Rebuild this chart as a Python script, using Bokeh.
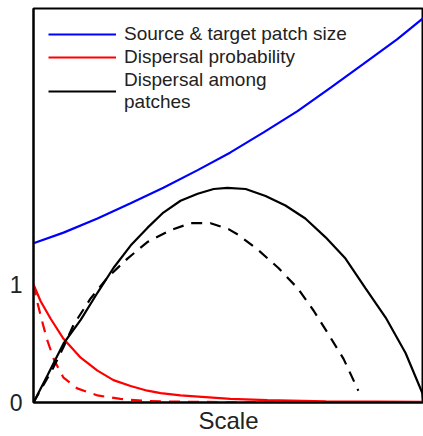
from bokeh.plotting import figure
from bokeh.models import FixedTicker, Legend, LegendItem, Range1d
from bokeh.embed import file_html
from bokeh.resources import INLINE

# Data (x = relative scale 0..1)
blue_x = [0.0, 0.077, 0.164, 0.249, 0.333, 0.421, 0.505, 0.59, 0.677, 0.762, 0.846, 0.933, 1.0]
blue_y = [1.35, 1.44, 1.56, 1.69, 1.82, 1.97, 2.12, 2.29, 2.47, 2.67, 2.87, 3.08, 3.26]

black_x = [0.0, 0.036, 0.077, 0.121, 0.164, 0.205, 0.249, 0.292, 0.333, 0.377, 0.421, 0.462, 0.497,
           0.544, 0.595, 0.646, 0.697, 0.749, 0.8, 0.851, 0.903, 0.954, 0.997, 1.0]
black_y = [0.0, 0.23, 0.50, 0.70, 0.93, 1.14, 1.33, 1.48, 1.61, 1.71, 1.77, 1.81, 1.82,
           1.81, 1.75, 1.67, 1.56, 1.40, 1.22, 0.97, 0.72, 0.42, 0.08, 0.0]

black_dash_x = [0.0, 0.05, 0.077, 0.103, 0.146, 0.19, 0.241, 0.292, 0.351, 0.403, 0.454, 0.5,
                0.526, 0.577, 0.628, 0.677, 0.718, 0.756, 0.795, 0.833]
black_dash_y = [0.0, 0.29, 0.47, 0.66, 0.88, 1.06, 1.22, 1.36, 1.46, 1.52, 1.52, 1.47,
                1.42, 1.29, 1.14, 0.97, 0.78, 0.58, 0.37, 0.10]

red_x = [0.0, 0.018, 0.044, 0.077, 0.121, 0.164, 0.205, 0.249, 0.292, 0.326, 0.377, 0.505, 0.6, 0.75, 1.0]
red_y = [1.0, 0.86, 0.71, 0.54, 0.38, 0.27, 0.19, 0.14, 0.10, 0.08, 0.06, 0.03, 0.02, 0.01, 0.005]

red_dash_x = [0.0, 0.009, 0.022, 0.035, 0.053, 0.077, 0.112, 0.164, 0.223, 0.292, 0.4, 1.0]
red_dash_y = [1.0, 0.86, 0.69, 0.53, 0.36, 0.21, 0.12, 0.06, 0.03, 0.012, 0.005, 0.0]

y_ticks = [0, 1]
labels = ["Source & target patch size", "Dispersal probability", "Dispersal among\npatches"]
x_title = "Scale"

FONT = "Liberation Sans"

p = figure(width=423, height=436, output_backend="svg", toolbar_location=None,
           x_range=Range1d(0, 1), y_range=Range1d(0, 3.34))
p.min_border_left = 33
p.min_border_right = 0
p.min_border_top = 8
p.min_border_bottom = 34
p.outline_line_color = "black"
p.outline_line_width = 2
p.xgrid.visible = False
p.ygrid.visible = False

rb = p.line(blue_x, blue_y, line_color="#0000ff", line_width=2.2)
rr = p.line(red_x, red_y, line_color="#ff0000", line_width=2.2)
p.line(red_dash_x, red_dash_y, line_color="#ff0000", line_width=2.2, line_dash="11 8")
rk = p.line(black_x, black_y, line_color="black", line_width=2.2)
p.line(black_dash_x, black_dash_y, line_color="black", line_width=2.2, line_dash="11 8")

legend = Legend(items=[LegendItem(label=labels[0], renderers=[rb]),
                       LegendItem(label=labels[1], renderers=[rr]),
                       LegendItem(label=labels[2], renderers=[rk])],
                location=(15, 289))
legend.border_line_color = None
legend.background_fill_alpha = 0
legend.label_text_font = FONT
legend.label_text_font_size = "19px"
legend.label_text_color = "#222222"
legend.glyph_width = 68
legend.glyph_height = 20
legend.label_height = 20
legend.label_standoff = 8
legend.spacing = 1
legend.margin = 0
legend.padding = 0
p.add_layout(legend)

p.yaxis.ticker = FixedTicker(ticks=y_ticks)
p.yaxis.major_tick_line_color = None
p.yaxis.major_tick_out = 0
p.yaxis.minor_tick_line_color = None
p.yaxis.major_label_text_font = FONT
p.yaxis.major_label_text_font_size = "23px"
p.yaxis.major_label_text_color = "#222222"
p.yaxis.major_label_standoff = 11
p.yaxis.axis_line_width = 2

p.xaxis.ticker = FixedTicker(ticks=[])
p.xaxis.major_tick_line_color = None
p.xaxis.major_tick_out = 0
p.xaxis.minor_tick_line_color = None
p.xaxis.major_label_standoff = 0
p.xaxis.axis_label = x_title
p.xaxis.axis_label_text_font = FONT
p.xaxis.axis_label_text_font_size = "24px"
p.xaxis.axis_label_text_font_style = "normal"
p.xaxis.axis_label_text_color = "#222222"
p.xaxis.axis_label_standoff = 4
p.xaxis.axis_line_width = 2

open("out.html", "w").write(file_html(p, INLINE))
